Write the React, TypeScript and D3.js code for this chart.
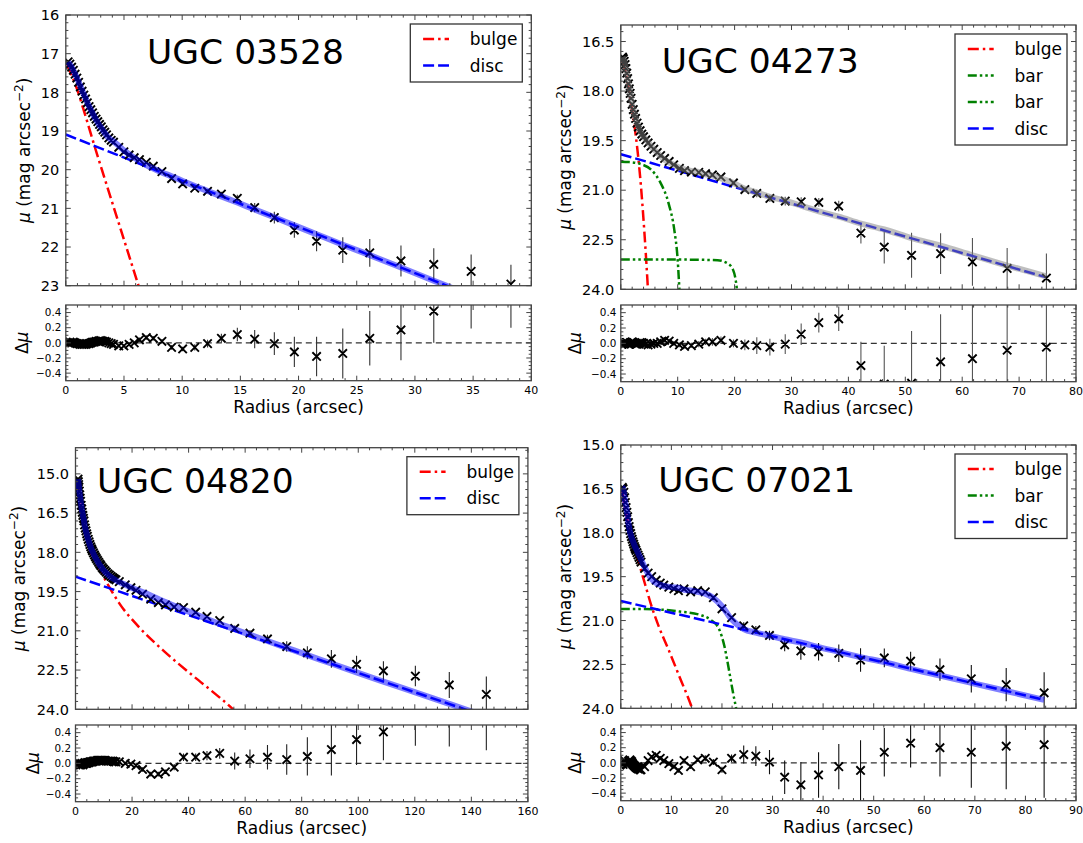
import React from 'react';
import * as d3 from 'd3';

const FONT = "'DejaVu Sans', 'Liberation Sans', sans-serif";

/* ---------------- UGC 03528 ---------------- */
const radius03528 = [0.2, 0.35, 0.5, 0.65, 0.8, 0.95, 1.1, 1.25, 1.4, 1.55, 1.7, 1.85, 2.0, 2.15, 2.3, 2.45, 2.6, 2.75, 2.9, 3.05, 3.2, 3.35, 3.5, 3.7, 3.9, 4.1, 4.55, 4.99, 5.44, 5.88, 6.33, 6.92, 7.52, 8.26, 9.09, 10.04, 11.08, 12.18, 13.37, 14.74, 16.23, 17.92, 19.64, 21.55, 23.8, 26.12, 28.8, 31.62, 34.83, 38.25];
const mu03528 = [17.21, 17.27, 17.35, 17.43, 17.53, 17.63, 17.74, 17.86, 17.97, 18.07, 18.17, 18.27, 18.37, 18.45, 18.53, 18.62, 18.69, 18.76, 18.83, 18.89, 18.97, 19.03, 19.1, 19.18, 19.24, 19.29, 19.42, 19.54, 19.62, 19.69, 19.74, 19.81, 19.91, 20.05, 20.23, 20.37, 20.48, 20.56, 20.63, 20.74, 20.98, 21.24, 21.56, 21.85, 22.08, 22.15, 22.36, 22.45, 22.63, 22.96];
const err03528 = [0.01, 0.01, 0.01, 0.01, 0.01, 0.01, 0.01, 0.01, 0.01, 0.01, 0.01, 0.01, 0.02, 0.02, 0.02, 0.02, 0.02, 0.02, 0.02, 0.02, 0.02, 0.02, 0.02, 0.02, 0.02, 0.02, 0.02, 0.02, 0.02, 0.02, 0.03, 0.03, 0.03, 0.03, 0.03, 0.03, 0.04, 0.05, 0.06, 0.09, 0.12, 0.15, 0.2, 0.26, 0.33, 0.36, 0.4, 0.42, 0.44, 0.5];
const resid03528 = [0.0, 0.01, 0.0, 0.01, 0.0, -0.01, -0.01, -0.02, -0.02, -0.02, -0.02, -0.01, -0.01, 0.0, 0.01, 0.01, 0.02, 0.02, 0.03, 0.03, 0.02, 0.02, 0.01, 0.0, -0.01, -0.02, -0.04, -0.04, -0.02, 0.0, 0.04, 0.07, 0.06, 0.02, -0.06, -0.08, -0.06, -0.01, 0.06, 0.11, 0.05, -0.01, -0.12, -0.18, -0.14, 0.06, 0.17, 0.42, 0.63, 0.7];
const bulgeR03528 = [0.1, 0.5, 1.0, 1.5, 2.0, 2.5, 3.1, 4.0, 5.0, 6.25, 6.6];
const bulgeMu03528 = [17.3, 17.55, 17.95, 18.42, 18.92, 19.42, 20.0, 20.86, 21.81, 23.0, 23.33];
const discR03528 = [0, 38.25];
const discMu03528 = [19.09, 23.66];
const xTicks03528 = [0, 5, 10, 15, 20, 25, 30, 35, 40];
const yTicks03528 = [16, 17, 18, 19, 20, 21, 22, 23];

/* ---------------- UGC 04273 ---------------- */
const radius04273 = [0.3, 0.45, 0.6, 0.75, 0.9, 1.05, 1.2, 1.35, 1.5, 1.65, 1.8, 2.0, 2.2, 2.4, 2.6, 2.85, 3.1, 3.4, 3.7, 4.0, 4.4, 4.8, 5.3, 5.8, 6.4, 7.0, 7.7, 8.5, 9.3, 10.3, 11.2, 12.4, 13.7, 14.9, 16.1, 17.6, 19.8, 21.8, 23.9, 26.2, 28.9, 31.7, 34.8, 38.3, 42.2, 46.3, 51.1, 56.2, 61.8, 67.9, 74.8];
const mu04273 = [16.97, 17.02, 17.1, 17.2, 17.32, 17.46, 17.62, 17.78, 17.93, 18.07, 18.22, 18.4, 18.56, 18.7, 18.83, 18.97, 19.09, 19.2, 19.3, 19.38, 19.48, 19.57, 19.67, 19.76, 19.86, 19.95, 20.04, 20.13, 20.23, 20.34, 20.41, 20.45, 20.46, 20.5, 20.54, 20.6, 20.78, 20.98, 21.1, 21.25, 21.33, 21.35, 21.37, 21.48, 22.3, 22.72, 22.97, 22.92, 23.17, 23.37, 23.66];
const err04273 = [0.01, 0.01, 0.01, 0.01, 0.01, 0.01, 0.01, 0.01, 0.01, 0.01, 0.01, 0.01, 0.01, 0.01, 0.01, 0.02, 0.02, 0.02, 0.02, 0.02, 0.02, 0.02, 0.02, 0.02, 0.02, 0.03, 0.03, 0.03, 0.03, 0.03, 0.03, 0.03, 0.04, 0.04, 0.05, 0.05, 0.05, 0.07, 0.11, 0.11, 0.13, 0.14, 0.13, 0.16, 0.31, 0.5, 0.68, 0.62, 0.72, 0.62, 0.74];
const resid04273 = [0.0, 0.01, -0.01, 0.0, 0.01, 0.01, 0.0, -0.01, -0.01, 0.0, 0.01, 0.02, 0.01, 0.0, -0.01, -0.01, 0.0, 0.01, 0.01, 0.0, -0.01, -0.02, -0.01, 0.0, 0.0, 0.02, 0.04, 0.03, 0.0, -0.02, -0.04, -0.03, -0.01, 0.02, 0.02, 0.04, 0.0, -0.02, -0.03, -0.05, -0.01, 0.12, 0.27, 0.32, -0.29, -0.53, -0.52, -0.24, -0.2, -0.09, -0.05];
const bulgeR04273 = [0.3, 0.8, 1.3, 1.83, 2.63, 3.12, 3.55, 4.16, 4.77, 4.9];
const bulgeMu04273 = [17.1, 17.4, 17.85, 18.4, 19.35, 20.09, 20.9, 22.31, 24.0, 24.4];
const barR04273 = [0, 1.5, 3.5, 5.4, 6.9, 8.4, 9.4, 10.0, 10.3, 10.4];
const barMu04273 = [20.14, 20.15, 20.21, 20.39, 20.75, 21.4, 22.2, 23.12, 24.0, 24.3];
const bar2R04273 = [0, 10, 17, 18.8, 19.75, 20.2, 20.4, 20.5];
const bar2Mu04273 = [23.1, 23.1, 23.12, 23.22, 23.42, 23.73, 24.0, 24.2];
const discR04273 = [0, 74.8];
const discMu04273 = [19.91, 23.64];
const xTicks04273 = [0, 10, 20, 30, 40, 50, 60, 70, 80];
const yTicks04273 = [16.5, 18.0, 19.5, 21.0, 22.5, 24.0];

/* ---------------- UGC 04820 ---------------- */
const radius04820 = [0.9, 1.0, 1.1, 1.2, 1.35, 1.5, 1.65, 1.8, 2.0, 2.2, 2.4, 2.6, 2.8, 3.0, 3.2, 3.45, 3.7, 3.95, 4.2, 4.5, 4.8, 5.1, 5.4, 5.7, 6.0, 6.35, 6.7, 7.05, 7.4, 7.8, 8.2, 8.6, 9.0, 9.45, 9.9, 10.4, 10.9, 11.45, 12.0, 12.6, 13.2, 13.75, 14.3, 15.5, 17.6, 19.6, 21.4, 23.7, 26.6, 29.3, 31.8, 34.9, 38.2, 42.5, 46.5, 51.0, 56.3, 61.7, 67.9, 74.7, 82.0, 90.5, 99.4, 108.9, 120.2, 132.2, 145.3];
const mu04820 = [15.2, 15.3, 15.41, 15.51, 15.66, 15.8, 15.93, 16.05, 16.2, 16.34, 16.47, 16.59, 16.7, 16.8, 16.95, 17.07, 17.18, 17.29, 17.39, 17.5, 17.6, 17.7, 17.79, 17.87, 17.94, 18.02, 18.1, 18.17, 18.24, 18.31, 18.38, 18.45, 18.51, 18.58, 18.64, 18.7, 18.76, 18.82, 18.87, 18.92, 18.97, 19.01, 19.05, 19.12, 19.24, 19.35, 19.45, 19.6, 19.79, 19.92, 20.01, 20.09, 20.11, 20.29, 20.45, 20.61, 20.91, 21.09, 21.31, 21.6, 21.84, 22.07, 22.28, 22.53, 22.73, 23.07, 23.43];
const err04820 = [0.01, 0.01, 0.01, 0.01, 0.01, 0.01, 0.01, 0.01, 0.01, 0.01, 0.01, 0.01, 0.01, 0.01, 0.01, 0.01, 0.01, 0.01, 0.01, 0.01, 0.01, 0.01, 0.01, 0.01, 0.01, 0.02, 0.02, 0.02, 0.02, 0.02, 0.02, 0.02, 0.02, 0.02, 0.02, 0.02, 0.02, 0.02, 0.02, 0.02, 0.02, 0.02, 0.02, 0.02, 0.02, 0.02, 0.02, 0.03, 0.03, 0.03, 0.03, 0.04, 0.05, 0.05, 0.06, 0.07, 0.11, 0.12, 0.16, 0.2, 0.25, 0.34, 0.33, 0.37, 0.39, 0.5, 0.68];
const resid04820 = [0.0, -0.01, -0.02, -0.01, 0.0, -0.01, -0.02, -0.02, -0.01, 0.0, -0.01, -0.02, -0.01, 0.0, 0.0, 0.01, 0.0, 0.0, 0.01, 0.01, 0.01, 0.02, 0.02, 0.02, 0.02, 0.03, 0.03, 0.03, 0.03, 0.04, 0.04, 0.04, 0.04, 0.04, 0.04, 0.04, 0.03, 0.03, 0.03, 0.03, 0.03, 0.02, 0.02, 0.02, 0.0, -0.01, -0.03, -0.08, -0.14, -0.14, -0.11, -0.05, 0.08, 0.08, 0.1, 0.13, 0.03, 0.06, 0.08, 0.05, 0.09, 0.18, 0.31, 0.41, 0.62, 0.72, 0.85];
const bulgeR04820 = [0.9, 2.0, 3.0, 4.0, 5.4, 7.0, 8.8, 11.3, 15.5, 22.3, 30.8, 41.9, 49.2, 54.7, 57.0];
const bulgeMu04820 = [15.3, 16.3, 16.95, 17.45, 18.0, 18.35, 18.7, 19.2, 19.95, 20.84, 21.73, 22.75, 23.39, 23.9, 24.15];
const discR04820 = [0, 145.3];
const discMu04820 = [18.93, 24.28];
const xTicks04820 = [0, 20, 40, 60, 80, 100, 120, 140, 160];
const yTicks04820 = [15.0, 16.5, 18.0, 19.5, 21.0, 22.5, 24.0];

/* ---------------- UGC 07021 ---------------- */
const radius07021 = [0.3, 0.45, 0.6, 0.75, 0.9, 1.05, 1.2, 1.35, 1.5, 1.65, 1.8, 1.95, 2.1, 2.25, 2.4, 2.55, 2.7, 2.85, 3.0, 3.2, 3.4, 3.6, 3.8, 4.0, 4.7, 5.4, 6.1, 7.0, 7.8, 8.5, 9.5, 10.5, 11.4, 12.5, 13.8, 15.2, 16.7, 18.3, 20.0, 21.9, 24.3, 26.7, 29.4, 32.4, 35.6, 39.1, 43.1, 47.4, 52.1, 57.3, 63.1, 69.3, 76.2, 83.7];
const mu07021 = [16.45, 16.5, 16.62, 16.8, 16.97, 17.14, 17.3, 17.45, 17.65, 17.79, 17.92, 18.03, 18.13, 18.22, 18.31, 18.39, 18.47, 18.54, 18.6, 18.68, 18.76, 18.84, 18.92, 19.0, 19.22, 19.38, 19.5, 19.62, 19.72, 19.79, 19.86, 19.92, 19.98, 19.92, 20.02, 19.98, 20.02, 20.22, 20.6, 20.9, 21.18, 21.32, 21.51, 21.83, 22.04, 22.07, 22.12, 22.35, 22.28, 22.39, 22.68, 22.99, 23.19, 23.47];
const err07021 = [0.01, 0.01, 0.01, 0.01, 0.01, 0.01, 0.01, 0.01, 0.01, 0.01, 0.01, 0.01, 0.02, 0.02, 0.02, 0.02, 0.02, 0.02, 0.02, 0.02, 0.02, 0.02, 0.02, 0.02, 0.02, 0.02, 0.02, 0.02, 0.02, 0.02, 0.03, 0.03, 0.03, 0.03, 0.03, 0.03, 0.04, 0.04, 0.04, 0.05, 0.12, 0.13, 0.16, 0.22, 0.3, 0.3, 0.3, 0.4, 0.32, 0.32, 0.38, 0.47, 0.57, 0.7];
const resid07021 = [0.0, -0.02, 0.02, 0.03, 0.01, -0.02, -0.03, -0.01, 0.02, 0.03, 0.04, 0.03, 0.02, 0.0, -0.02, -0.03, -0.04, -0.05, -0.06, -0.07, -0.08, -0.08, -0.09, -0.09, -0.05, 0.03, 0.08, 0.1, 0.06, 0.03, -0.01, -0.05, -0.1, 0.03, -0.05, 0.04, 0.06, 0.01, -0.09, 0.06, 0.11, 0.09, 0.01, -0.19, -0.29, -0.16, -0.05, -0.1, 0.14, 0.26, 0.2, 0.14, 0.22, 0.24];
const bulgeR07021 = [0.3, 1.0, 2.0, 3.0, 3.65, 4.8, 6.06, 7.5, 9.5, 11.6, 14.1, 14.5];
const bulgeMu07021 = [16.6, 17.3, 18.1, 18.72, 19.08, 19.76, 20.5, 21.2, 22.02, 22.92, 24.0, 24.2];
const barR07021 = [0, 4.7, 11.6, 15.7, 17.8, 19.5, 20.5, 21.5, 22.2, 22.8, 23.0];
const barMu07021 = [20.61, 20.61, 20.69, 20.81, 20.98, 21.32, 21.89, 22.8, 23.48, 24.0, 24.2];
const discR07021 = [0, 83.7];
const discMu07021 = [20.33, 23.71];
const xTicks07021 = [0, 10, 20, 30, 40, 50, 60, 70, 80, 90];
const yTicks07021 = [15.0, 16.5, 18.0, 19.5, 21.0, 22.5, 24.0];

const residTicks = [0.4, 0.2, 0.0, -0.2, -0.4];

type Kind = 'bulge' | 'bar' | 'disc';

const LINE_STYLE: Record<Kind, { color: string; dash: string }> = {
  bulge: { color: '#ff0000', dash: '11,4,2.5,4' },
  bar: { color: '#008000', dash: '9,3,2.5,3,2.5,3' },
  disc: { color: '#0000ff', dash: '11,4' },
};

interface Comp { kind: Kind; r: number[]; mu: number[] }

interface PanelSpec {
  id: string;
  title: string;
  radius: number[];
  mu: number[];
  err: number[];
  resid: number[];
  comps: Comp[];
  legend: Kind[];
  xTicks: number[];
  xMinor: number;
  yTicks: number[];
  yDomain: [number, number];
  yMinor: number;
  yFormat: (v: number) => string;
  totalColor: string;
  errColor: string;
  layout: {
    main: [number, number, number, number];
    resid: [number, number];
    title: [number, number];
    yLabelX: number;
    dLabelX: number;
  };
}

const fmtInt = d3.format('d');
const fmt1 = d3.format('.1f');

const panels: PanelSpec[] = [
  {
    id: '03528', title: 'UGC 03528',
    radius: radius03528, mu: mu03528, err: err03528, resid: resid03528,
    comps: [
      { kind: 'bulge', r: bulgeR03528, mu: bulgeMu03528 },
      { kind: 'disc', r: discR03528, mu: discMu03528 },
    ],
    legend: ['bulge', 'disc'],
    xTicks: xTicks03528, xMinor: 1,
    yTicks: yTicks03528, yDomain: [16, 23], yMinor: 0.2, yFormat: fmtInt,
    totalColor: '#0000ff', errColor: '#333',
    layout: { main: [65.8, 15, 531.3, 285.7], resid: [305, 380.7], title: [147.1, 64], yLabelX: 29.5, dLabelX: 28 },
  },
  {
    id: '04273', title: 'UGC 04273',
    radius: radius04273, mu: mu04273, err: err04273, resid: resid04273,
    comps: [
      { kind: 'bulge', r: bulgeR04273, mu: bulgeMu04273 },
      { kind: 'bar', r: barR04273, mu: barMu04273 },
      { kind: 'bar', r: bar2R04273, mu: bar2Mu04273 },
      { kind: 'disc', r: discR04273, mu: discMu04273 },
    ],
    legend: ['bulge', 'bar', 'bar', 'disc'],
    xTicks: xTicks04273, xMinor: 2,
    yTicks: yTicks04273, yDomain: [16, 24], yMinor: 0.3, yFormat: fmt1,
    totalColor: '#808080', errColor: '#555',
    layout: { main: [620.8, 25, 1076, 289.3], resid: [305, 381.7], title: [661.8, 72.7], yLabelX: 571, dLabelX: 580.5 },
  },
  {
    id: '04820', title: 'UGC 04820',
    radius: radius04820, mu: mu04820, err: err04820, resid: resid04820,
    comps: [
      { kind: 'bulge', r: bulgeR04820, mu: bulgeMu04820 },
      { kind: 'disc', r: discR04820, mu: discMu04820 },
    ],
    legend: ['bulge', 'disc'],
    xTicks: xTicks04820, xMinor: 4,
    yTicks: yTicks04820, yDomain: [14, 24], yMinor: 0.3, yFormat: fmt1,
    totalColor: '#0000ff', errColor: '#222',
    layout: { main: [75.5, 447.7, 527.9, 709.3], resid: [725, 801.7], title: [96.9, 493.3], yLabelX: 24.5, dLabelX: 38.5 },
  },
  {
    id: '07021', title: 'UGC 07021',
    radius: radius07021, mu: mu07021, err: err07021, resid: resid07021,
    comps: [
      { kind: 'bulge', r: bulgeR07021, mu: bulgeMu07021 },
      { kind: 'bar', r: barR07021, mu: barMu07021 },
      { kind: 'disc', r: discR07021, mu: discMu07021 },
    ],
    legend: ['bulge', 'bar', 'disc'],
    xTicks: xTicks07021, xMinor: 2,
    yTicks: yTicks07021, yDomain: [15, 24], yMinor: 0.3, yFormat: fmt1,
    totalColor: '#0000ff', errColor: '#111',
    layout: { main: [620.8, 445, 1076, 708.3], resid: [725, 800.7], title: [658.3, 491.7], yLabelX: 571, dLabelX: 580.5 },
  },
];

// minor tick values that fall between the major ticks within [lo, hi]
function minorValues(lo: number, hi: number, base: number, step: number, majors: number[]) {
  const out: number[] = [];
  const k0 = Math.ceil((lo - base) / step - 1e-6);
  const k1 = Math.floor((hi - base) / step + 1e-6);
  for (let k = k0; k <= k1; k++) {
    const v = base + k * step;
    if (Math.abs(v - lo) < 1e-6 || Math.abs(v - hi) < 1e-6) continue;
    if (majors.some((m) => Math.abs(m - v) < 1e-6)) continue;
    out.push(v);
  }
  return out;
}

function tickPath(
  xs: (v: number) => number, ys: (v: number) => number,
  x0: number, x1: number, y0: number, y1: number,
  xMaj: number[], xMin: number[], yMaj: number[], yMin: number[],
) {
  const MAJ = 5, MIN = 2.6;
  let d = '';
  for (const v of xMaj) { const p = xs(v); d += `M${p},${y1}v${-MAJ}M${p},${y0}v${MAJ}`; }
  for (const v of xMin) { const p = xs(v); d += `M${p},${y1}v${-MIN}M${p},${y0}v${MIN}`; }
  for (const v of yMaj) { const p = ys(v); d += `M${x0},${p}h${MAJ}M${x1},${p}h${-MAJ}`; }
  for (const v of yMin) { const p = ys(v); d += `M${x0},${p}h${MIN}M${x1},${p}h${-MIN}`; }
  return d;
}

function crossPath(pts: [number, number][], h = 4.2) {
  return pts.map(([cx, cy]) => `M${cx - h},${cy - h}L${cx + h},${cy + h}M${cx - h},${cy + h}L${cx + h},${cy - h}`).join('');
}

const FRAME = '#444';

function Panel({ p }: { p: PanelSpec }) {
  const [x0, y0, x1, y1] = p.layout.main;
  const [ry0, ry1] = p.layout.resid;
  const xMax = p.xTicks[p.xTicks.length - 1];
  const x = d3.scaleLinear().domain([0, xMax]).range([x0, x1]);
  const y = d3.scaleLinear().domain(p.yDomain).range([y0, y1]);
  const ry = d3.scaleLinear().domain([0.5, -0.5]).range([ry0, ry1]);

  const line = d3.line<[number, number]>().x((d) => x(d[0])).y((d) => y(d[1])).curve(d3.curveMonotoneX);

  const pts: [number, number][] = p.radius.map((r, i) => [x(r), y(p.mu[i])]);
  const rpts: [number, number][] = p.radius.map((r, i) => [x(r), ry(p.resid[i])]);
  // fitted total profile = observed value + residual
  const total: [number, number][] = p.radius.map((r, i) => [r, p.mu[i] + p.resid[i]]);

  const errMain = p.radius.map((r, i) => `M${x(r)},${y(p.mu[i] - p.err[i])}V${y(p.mu[i] + p.err[i])}`).join('');
  const errRes = p.radius.map((r, i) => `M${x(r)},${ry(p.resid[i] + p.err[i])}V${ry(p.resid[i] - p.err[i])}`).join('');

  const xMin = minorValues(0, xMax, 0, p.xMinor, p.xTicks);
  const yMin = minorValues(p.yDomain[0], p.yDomain[1], p.yTicks[0], p.yMinor, p.yTicks);
  const rMin = minorValues(-0.5, 0.5, 0, 0.05, residTicks);

  const mainTicks = tickPath(x, y, x0, x1, y0, y1, p.xTicks, xMin, p.yTicks, yMin);
  const resTicks = tickPath(x, ry, x0, x1, ry0, ry1, p.xTicks, xMin, residTicks, rMin);

  const clipMain = `clip-main-${p.id}`;
  const clipRes = `clip-res-${p.id}`;

  // legend box in the upper-right corner
  const rowH = 26.5;
  const lgW = 112;
  const lgH = p.legend.length * rowH + 5;
  const lgX = x1 - 9 - lgW;
  const lgY = y0 + 9;

  const cx = (x0 + x1) / 2;

  return (
    <g>
      <defs>
        <clipPath id={clipMain}><rect x={x0} y={y0} width={x1 - x0} height={y1 - y0} /></clipPath>
        <clipPath id={clipRes}><rect x={x0} y={ry0} width={x1 - x0} height={ry1 - ry0} /></clipPath>
      </defs>

      {/* profile panel */}
      <g clipPath={`url(#${clipMain})`}>
        <path d={errMain} stroke={p.errColor} strokeWidth={1.1} fill="none" />
        {p.comps.map((c, i) => (
          <path key={i}
            d={line(c.r.map((r, j) => [r, c.mu[j]] as [number, number])) || ''}
            stroke={LINE_STYLE[c.kind].color} strokeWidth={2.5} strokeDasharray={LINE_STYLE[c.kind].dash}
            fill="none" />
        ))}
        <path d={crossPath(pts)} stroke="#000" strokeWidth={1.9} fill="none" />
        <path d={line(total) || ''} stroke={p.totalColor} strokeOpacity={0.5} strokeWidth={6} fill="none" />
      </g>

      {/* residual panel */}
      <g clipPath={`url(#${clipRes})`}>
        <line x1={x0} x2={x1} y1={ry(0)} y2={ry(0)} stroke="#333" strokeWidth={1.2} strokeDasharray="6,4" />
        <path d={errRes} stroke={p.errColor} strokeWidth={1.1} fill="none" />
        <path d={crossPath(rpts)} stroke="#000" strokeWidth={1.9} fill="none" />
      </g>

      {/* frames and ticks */}
      <rect x={x0} y={y0} width={x1 - x0} height={y1 - y0} fill="none" stroke={FRAME} strokeWidth={1.3} />
      <rect x={x0} y={ry0} width={x1 - x0} height={ry1 - ry0} fill="none" stroke={FRAME} strokeWidth={1.3} />
      <path d={mainTicks} stroke={FRAME} strokeWidth={1} fill="none" />
      <path d={resTicks} stroke={FRAME} strokeWidth={1} fill="none" />

      {/* tick labels */}
      {p.yTicks.map((v) => (
        <text key={`y${v}`} x={x0 - 6.5} y={y(v)} dy="0.36em" textAnchor="end" fontSize={14.5} fontFamily={FONT}>{p.yFormat(v)}</text>
      ))}
      {residTicks.map((v) => (
        <text key={`r${v}`} x={x0 - 4.5} y={ry(v)} dy="0.36em" textAnchor="end" fontSize={10.4} fontFamily={FONT}>{fmt1(v)}</text>
      ))}
      {p.xTicks.map((v) => (
        <text key={`x${v}`} x={x(v)} y={ry1 + 13} textAnchor="middle" fontSize={11} fontFamily={FONT}>{v}</text>
      ))}

      {/* axis labels */}
      <text x={cx} y={ry1 + 32.5} textAnchor="middle" fontSize={17} fontFamily={FONT}>Radius (arcsec)</text>
      <text transform={`translate(${p.layout.yLabelX},${(y0 + y1) / 2}) rotate(-90)`} textAnchor="middle" fontSize={17} fontFamily={FONT}>
        <tspan fontStyle="italic">μ</tspan>
        <tspan> (mag arcsec</tspan>
        <tspan dy={-6.5} fontSize={12}>−2</tspan>
        <tspan dy={6.5}>)</tspan>
      </text>
      <text transform={`translate(${p.layout.dLabelX},${(ry0 + ry1) / 2}) rotate(-90)`} textAnchor="middle" fontSize={17} fontFamily={FONT}>
        <tspan>Δ</tspan><tspan fontStyle="italic">μ</tspan>
      </text>

      {/* galaxy name */}
      <text x={p.layout.title[0]} y={p.layout.title[1]} fontSize={34.5} fontFamily={FONT}>{p.title}</text>

      {/* legend */}
      <rect x={lgX} y={lgY} width={lgW} height={lgH} fill="#fff" stroke="#333" strokeWidth={1.3} />
      {p.legend.map((k, i) => {
        const ly = lgY + 15 + i * rowH;
        return (
          <g key={i}>
            <line x1={lgX + 12.8} x2={lgX + 38.7} y1={ly} y2={ly} stroke={LINE_STYLE[k].color} strokeWidth={2.5} strokeDasharray={LINE_STYLE[k].dash} />
            <text x={lgX + 59.5} y={ly} dy="0.36em" fontSize={17} fontFamily={FONT}>{k}</text>
          </g>
        );
      })}
    </g>
  );
}

export default function App() {
  return (
    <svg width={1083} height={843} style={{ position: 'absolute', left: 0, top: 0, background: '#fff' }}>
      <rect x={0} y={0} width={1083} height={843} fill="#fff" />
      {panels.map((p) => <Panel key={p.id} p={p} />)}
    </svg>
  );
}
